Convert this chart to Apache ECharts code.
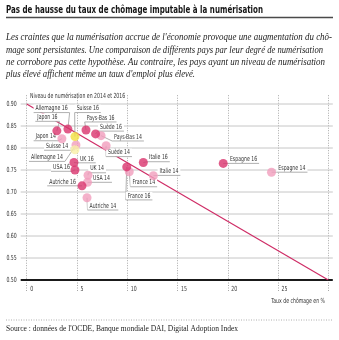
<!DOCTYPE html>
<html>
<head>
<meta charset="utf-8">
<script src="https://cdn.jsdelivr.net/npm/echarts@6/dist/echarts.min.js"></script>
<style>
  html, body { margin: 0; padding: 0; background: #fff; }
  #chart { width: 339px; height: 340px; }
</style>
</head>
<body>
<div id="chart"></div>
<script>
// Countries, in the same order for every value array below
const countries = ['Allemagne', 'Japon', 'Suisse', 'Pays-Bas', 'Suède', 'UK', 'USA', 'Autriche', 'France', 'Italie', 'Espagne'];

// Unemployment rate (%) and digitisation level, 2016
const chomage16 = [4.1, 3.0, 4.8, 5.9, 6.85, 4.7, 4.8, 5.5, 9.95, 11.6, 19.55];
const numer16   = [0.843, 0.839, 0.826, 0.841, 0.832, 0.767, 0.750, 0.714, 0.757, 0.767, 0.765];

// Unemployment rate (%) and digitisation level, 2014
const chomage14 = [4.9, 3.5, 4.8, 7.4, 7.9, 6.1, 6.05, 6.0, 10.2, 12.6, 24.35];
const numer14   = [0.807, 0.821, 0.796, 0.828, 0.805, 0.738, 0.722, 0.687, 0.746, 0.737, 0.745];

// Linear trend (unemployment vs digitisation)
const trend = [[0, 0.90], [30, 0.50]];

// Axis ticks
const xTicks = [0, 5, 10, 15, 20, 25, 30];
const yTicks = [0.50, 0.55, 0.60, 0.65, 0.70, 0.75, 0.80, 0.85, 0.90];

// Label placement per point: [dx, dy, side] — anchor of the underline relative to the dot
const place16 = [
  [1.7, -16.5, 'right'], [2.7, -9.5, 'right'], [-0.3, -24, 'left'], [-1.3, -8, 'left'],
  [2.5, -2.8, 'left'], [4, 0.3, 'left'], [-3, 1.3, 'right'], [-4, 0, 'right'],
  [-1, 33, 'left'], [3.7, -0.8, 'left'], [4.7, 0, 'left']
];
const place14 = [
  [-11, 16.5, 'right'], [-4, 2, 'right'], [-4.7, 0.5, 'right'], [11, 5.3, 'left'],
  [0, 10.8, 'left'], [0.2, -2.5, 'left'], [3.5, 0, 'left'], [0.5, 12.3, 'left'],
  [1.2, 15, 'left'], [4.2, -0.3, 'left'], [4.8, 0, 'left']
];

const COND = '"Liberation Sans Narrow", "DejaVu Sans Condensed", sans-serif';
const LABEL_FONT = '7px ' + COND;
const SMALL_FONT = '7px ' + COND;
const SERIF_IT = 'italic 9.5px "Liberation Serif", "DejaVu Serif", serif';
const SERIF = '8px "Liberation Serif", "DejaVu Serif", serif';
const TITLE_FONT = 'bold 11px ' + COND;

const measureCtx = document.createElement('canvas').getContext('2d');
function textWidth(str, font) {
  measureCtx.font = font;
  return measureCtx.measureText(str).width;
}
// Horizontal squeeze that gives the small condensed captions their narrow set width
const SQUEEZE = 32 / textWidth('Allemagne 16', LABEL_FONT);

const COL_DARK = '#d9336d', COL_LIGHT = '#f19dbd';
const COL_Y16 = '#f3df3f', COL_Y14 = '#f9f0a6';

// Points and labels built from the arrays
const pts16 = countries.map((c, i) => ({ value: [chomage16[i], numer16[i]], name: c + ' 16',
  itemStyle: { color: c === 'Suisse' ? COL_Y16 : COL_DARK } }));
const pts14 = countries.map((c, i) => ({ value: [chomage14[i], numer14[i]], name: c + ' 14',
  itemStyle: { color: c === 'Suisse' ? COL_Y14 : COL_LIGHT } }));

const labelTexts = countries.map(c => c + ' 16').concat(countries.map(c => c + ' 14'));
const labelPlace = place16.concat(place14);
const labelData = chomage16.map((x, i) => [x, numer16[i], i])
  .concat(chomage14.map((x, i) => [x, numer14[i], i + countries.length]));

function renderLabel(params, api) {
  const idx = api.value(2);
  const p = api.coord([api.value(0), api.value(1)]);
  const pl = labelPlace[idx];
  const txt = labelTexts[idx];
  const ax = p[0] + pl[0], ay = p[1] + pl[1];
  const w = textWidth(txt, LABEL_FONT) * SQUEEZE + 4;
  const left = pl[2] === 'left';
  const x0 = left ? ax : ax - w;
  const x1 = left ? ax + w : ax;
  return {
    type: 'group',
    children: [
      { type: 'line', shape: { x1: p[0], y1: p[1], x2: ax, y2: ay },
        style: { stroke: '#9c9c9c', lineWidth: 0.8 } },
      { type: 'rect', shape: { x: x0, y: ay - 8, width: w, height: 8 },
        style: { fill: '#ffffff' } },
      { type: 'text', x: left ? ax + 2 : ax - 2, y: ay - 0.6, scaleX: SQUEEZE,
        style: { text: txt, font: LABEL_FONT, fill: '#333', align: left ? 'left' : 'right', verticalAlign: 'bottom' } },
      { type: 'line', shape: { x1: x0, y1: ay, x2: x1, y2: ay },
        style: { stroke: '#9c9c9c', lineWidth: 0.8 } }
    ]
  };
}

function renderGridLine(params, api) {
  const v = api.value(1);
  const a = api.coord([xTicks[0], v]);
  const b = api.coord([xTicks[xTicks.length - 1], v]);
  const base = v === yTicks[0];
  return {
    type: 'line',
    shape: { x1: a[0] - 6, y1: a[1], x2: b[0] + 4.5, y2: b[1] },
    style: { stroke: base ? '#1a1a1a' : '#c6c6c6', lineWidth: base ? 2 : 1 }
  };
}

// Tick labels drawn as squeezed condensed text
function renderYLabel(params, api) {
  const v = api.value(1);
  const p = api.coord([xTicks[0], v]);
  return { type: 'text', x: p[0] - 10, y: p[1], scaleX: SQUEEZE,
    style: { text: v.toFixed(2), font: SMALL_FONT, fill: '#333', align: 'right', verticalAlign: 'middle' } };
}
function renderXLabel(params, api) {
  const v = api.value(0);
  const p = api.coord([v, yTicks[0]]);
  return { type: 'text', x: p[0] + 3.5, y: p[1] + 9, scaleX: SQUEEZE,
    style: { text: String(v), font: SMALL_FONT, fill: '#333', align: 'left', verticalAlign: 'middle' } };
}

// Subtitle lines, stretched to their justified widths
const subLines = [
  ["Les craintes que la numérisation accrue de l'économie provoque une augmentation du chô-", 37.7, 326],
  ["mage sont persistantes. Une comparaison de différents pays par leur degré de numérisation", 50, 317],
  ["ne corrobore pas cette hypothèse. Au contraire, les pays ayant un niveau de numérisation", 62.3, 319],
  ["plus élevé affichent même un taux d'emploi plus élevé.", 74.7, 189]
];
const titleText = 'Pas de hausse du taux de chômage imputable à la numérisation';
const sourceText = "Source : données de l'OCDE, Banque mondiale DAI, Digital Adoption Index";

const graphics = [
  { type: 'text', x: 6, y: 10.5, scaleX: 257 / textWidth(titleText, TITLE_FONT),
    style: { text: titleText, font: TITLE_FONT, fill: '#161616', verticalAlign: 'middle' } },
  { type: 'line', shape: { x1: 6, y1: 17.5, x2: 333, y2: 17.5 }, style: { stroke: '#4a4a4a', lineWidth: 1.5 } },
  { type: 'text', x: 30, y: 96, scaleX: SQUEEZE, style: { text: 'Niveau de numérisation en 2014 et 2016',
      font: SMALL_FONT, fill: '#333', verticalAlign: 'middle' } },
  { type: 'text', x: 325, y: 301.5, scaleX: SQUEEZE, style: { text: 'Taux de chômage en %',
      font: SMALL_FONT, fill: '#333', align: 'right', verticalAlign: 'middle' } },
  { type: 'line', shape: { x1: 6, y1: 320, x2: 333, y2: 320 },
    style: { stroke: '#9a9a9a', lineWidth: 0.8, lineDash: [1, 1.5] } },
  { type: 'text', x: 6, y: 329.3, scaleX: 232 / textWidth(sourceText, SERIF),
    style: { text: sourceText, font: SERIF, fill: '#222', verticalAlign: 'middle' } }
];
subLines.forEach(([t, y, w]) => {
  graphics.push({ type: 'text', x: 6, y: y, scaleX: w / textWidth(t, SERIF_IT),
    style: { text: t, font: SERIF_IT, fill: '#222', verticalAlign: 'middle' } });
});

const chart = echarts.init(document.getElementById('chart'), null, { renderer: 'canvas' });
chart.setOption({
  animation: false,
  backgroundColor: '#ffffff',
  grid: { left: 26.7, right: 10.7, top: 95.2, bottom: 60 },
  xAxis: {
    type: 'value', min: xTicks[0], max: xTicks[xTicks.length - 1], interval: 5,
    axisLine: { show: false },
    axisTick: { show: true, length: 12, lineStyle: { color: '#a8a8a8', type: [1, 1.5], width: 1 } },
    axisLabel: { show: false },
    splitLine: { show: true, lineStyle: { color: '#a8a8a8', type: [1, 1.5], width: 1 } }
  },
  yAxis: {
    type: 'value', min: yTicks[0], max: 0.92, interval: 0.05,
    axisLine: { show: false }, axisTick: { show: false },
    axisLabel: { show: false },
    splitLine: { show: false }
  },
  graphic: graphics,
  series: [
    { type: 'custom', silent: true, clip: false, renderItem: renderGridLine,
      data: yTicks.map(v => [0, v]), z: 1 },
    { type: 'custom', silent: true, clip: false, renderItem: renderYLabel,
      data: yTicks.map(v => [0, v]), z: 1 },
    { type: 'custom', silent: true, clip: false, renderItem: renderXLabel,
      data: xTicks.slice(0, -1).map(v => [v, yTicks[0]]), z: 1 },
    { type: 'line', data: trend, showSymbol: false, silent: true,
      lineStyle: { color: '#cf2d66', width: 1.2 }, z: 2 },
    { type: 'custom', silent: true, clip: false, renderItem: renderLabel, data: labelData, z: 3 },
    { type: 'scatter', data: pts14, symbolSize: 9, z: 4 },
    { type: 'scatter', data: pts16, symbolSize: 9, z: 5 }
  ]
});
</script>
</body>
</html>
